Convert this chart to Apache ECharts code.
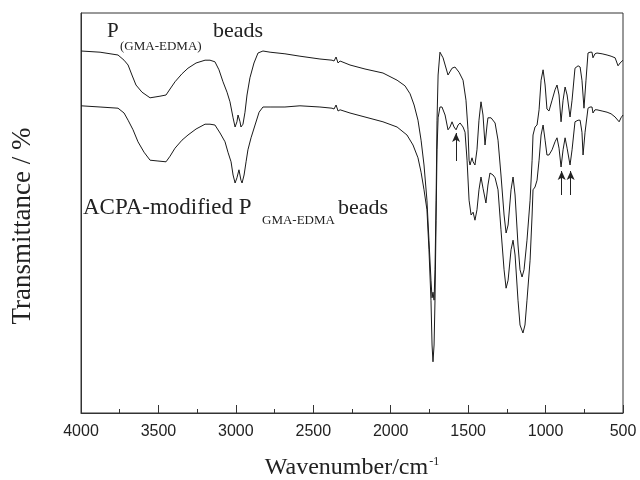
<!DOCTYPE html>
<html>
<head>
<meta charset="utf-8">
<script src="https://cdn.jsdelivr.net/npm/echarts@6/dist/echarts.min.js"></script>
<style>html,body{margin:0;padding:0;background:#fff;}#c{width:640px;height:480px;}</style>
</head>
<body>
<div id="c"></div>
<script>
// Wavenumber ticks
var xTicks = [4000, 3500, 3000, 2500, 2000, 1500, 1000, 500];

// P(GMA-EDMA) beads (upper trace): wavenumber (cm-1) and transmittance (arb.)
var wnTop = [4000,3877,3761,3722,3696,3671,3645,3606,3554,3522,3490,3451,3425,3393,3348,3309,3257,3199,3167,3135,3109,3083,3057,3038,3018,3005,2993,2986,2973,2967,2954,2941,2928,2909,2883,2857,2825,2779,2683,2586,2457,2379,2366,2353,2340,2327,2263,2166,2050,1959,1908,1875,1849,1824,1804,1785,1766,1753,1740,1733,1727,1720,1714,1707,1701,1694,1682,1662,1630,1604,1585,1559,1533,1514,1501,1494,1488,1475,1468,1456,1443,1430,1417,1404,1391,1378,1372,1352,1326,1307,1288,1268,1255,1242,1223,1210,1197,1178,1165,1152,1139,1120,1100,1087,1081,1068,1055,1042,1029,1016,1003,991,978,958,939,926,913,900,887,874,861,842,829,810,790,777,765,752,739,726,713,700,694,681,668,635,603,577,551,532,519,500];
var trTop = [90.5,90.2,89.5,88.2,87,84.5,82,80.2,78.8,79,79.2,79.5,81,82.8,84.8,86.2,87.5,88.2,88.2,87.8,85.8,82.8,80.2,77.8,73.8,71.5,72.8,74.5,72.8,71.5,72.2,75.2,79.5,83.8,87.5,90,90.5,90.2,89.8,89.2,88.5,88.2,88,89,87.5,88,87,86,85,83.2,81.8,79.8,77,73.2,68.2,62,53.2,43.2,33.2,28.8,30.2,28.2,35.8,53.2,73.2,84.5,90.2,88.8,84.5,86.2,86.5,85.2,83.2,78.2,70.8,63.2,62,63.8,62.8,62,65.8,73.2,77.8,74.5,67,72,73.8,73.8,72.5,68.2,59.5,49.5,45,47,55.8,59,54.5,42,35.8,34,35.8,43.2,53.2,63.2,69.5,71.5,72,75.8,83.2,85.8,82,76,75.5,78.2,80.8,82,79.5,72.8,78.2,81.5,79.5,74,78.2,86.2,86.8,86.5,83.2,76.2,83.2,90,90.2,90.2,88.8,89.8,90,89.8,89.5,89.2,88.8,86.8,87.5,88.2];

// ACPA-modified P(GMA-EDMA) beads (lower trace)
var wnBottom = [4000,3877,3761,3722,3696,3664,3632,3593,3554,3503,3451,3425,3393,3348,3309,3257,3199,3167,3135,3102,3070,3051,3031,3018,3005,2993,2980,2967,2960,2947,2934,2922,2902,2876,2850,2825,2779,2683,2586,2457,2379,2366,2353,2340,2327,2263,2166,2050,1959,1895,1856,1824,1804,1785,1766,1753,1740,1733,1727,1720,1714,1707,1701,1694,1682,1669,1649,1630,1617,1604,1591,1578,1565,1552,1533,1520,1507,1494,1481,1468,1456,1443,1430,1417,1404,1385,1372,1359,1339,1326,1307,1288,1268,1255,1242,1223,1210,1197,1178,1165,1146,1133,1120,1100,1087,1081,1068,1055,1042,1029,1016,1003,991,978,958,939,926,913,900,887,874,861,842,829,810,790,777,765,758,745,726,713,700,694,681,668,635,603,577,551,525,513,500];
var trBottom = [76.8,76.5,76.2,75,73.2,70.8,67.8,65.2,63.2,63,62.8,64.2,66.2,68.2,69.5,71,72.2,72.2,72,70,67.8,65.2,62.8,59.5,57.5,58.8,60.8,58.2,57.5,59.5,62.8,65.8,68.8,72,75.2,76.5,76.5,76.5,76.8,76.5,76.2,76,77,75.5,75.8,75,74,72.8,71.5,69.5,67,63.8,60.2,55.8,50.8,40.8,28.2,17,12.8,17,28.2,48.2,65.8,73.8,76.5,76.5,74.5,70.8,71.5,72.8,71.5,70.8,72,72.5,71.5,70.2,63.2,53.2,49.5,50.2,48.2,50.8,55.8,59,56.2,52.5,57,60,59.5,58.8,55.8,45.8,35.8,31.2,33.2,40.8,43.2,39.5,28.2,22,20,22,28.2,38.2,49.5,55.8,56.5,58.2,63.2,69.5,72,68.2,64.5,64.5,65.8,67.8,68.8,66.2,61.5,65.8,68.8,66.2,62,65.8,72.8,73.2,73.2,70.2,64.5,70.2,76.2,76.5,76.5,75,75.8,75.8,75.5,75.2,74.8,74,72.8,73.8,74.5];

// Arrows marking new bands (wavenumber, tail, head)
var arrowWn = [1578, 896, 838];
var arrowTail = [63, 54.5, 54.5];
var arrowHead = [70, 60.5, 60.5];

function pairs(xs, ys){ return xs.map(function(x,i){ return [x, ys[i]]; }); }

var serif = '"Liberation Serif","Times New Roman",serif';
var sans = '"Liberation Sans",Arial,sans-serif';

var chart = echarts.init(document.getElementById('c'), null, {renderer:'canvas'});
var arrowLines = arrowWn.map(function(w,i){
  return [{coord:[w, arrowTail[i]]},{coord:[w, arrowHead[i]]}];
});

chart.setOption({
  animation: false,
  backgroundColor: '#fff',
  grid: {left: 81, right: 17, top: 13, bottom: 67, containLabel: false, outerBoundsMode: 'none',
         show: true, borderColor: '#333', borderWidth: 1, backgroundColor: 'transparent'},
  xAxis: {
    type: 'value', inverse: true, min: 500, max: 4000, interval: 500,
    axisLine: {show: true, lineStyle: {color: '#333', width: 1}},
    axisTick: {show: true, inside: true, length: 8, lineStyle: {color: '#333'}},
    minorTick: {show: true, splitNumber: 2, length: 4, lineStyle: {color: '#333'}},
    splitLine: {show: false},
    axisLabel: {fontFamily: sans, fontSize: 16, color: '#222', margin: 11,
      formatter: function(v){ return xTicks.indexOf(v) >= 0 ? String(v) : ''; }},
    name: '{a|Wavenumber/cm}{b|-1}',
    nameLocation: 'middle', nameGap: 43,
    nameTextStyle: {rich: {
      a: {fontFamily: serif, fontSize: 24, color: '#222'},
      b: {fontFamily: serif, fontSize: 12, color: '#222', verticalAlign: 'top', padding: [0,0,12,1]}
    }}
  },
  yAxis: {
    type: 'value', min: 0, max: 100,
    axisLine: {show: true, lineStyle: {color: '#333'}},
    axisTick: {show: false}, axisLabel: {show: false}, splitLine: {show: false}
  },
  series: [
    {type: 'line', data: pairs(wnTop, trTop), showSymbol: false, symbol: 'none',
     lineStyle: {color: '#1a1a1a', width: 1}, silent: true},
    {type: 'line', data: pairs(wnBottom, trBottom), showSymbol: false, symbol: 'none',
     lineStyle: {color: '#1a1a1a', width: 1}, silent: true,
     markLine: {silent: true, symbol: ['none', 'arrow'], symbolSize: [6, 9],
       lineStyle: {color: '#222', width: 1, type: 'solid'}, label: {show: false},
       data: arrowLines}}
  ],
  graphic: [
    {type: 'text', x: 23, y: 226, rotation: Math.PI / 2,
     style: {text: 'Transmittance / %', font: '27px ' + serif, fill: '#222', align: 'center', verticalAlign: 'middle'}},
    {type: 'text', x: 107, y: 31, style: {text: 'P', font: '21px ' + serif, fill: '#222', verticalAlign: 'middle'}},
    {type: 'text', x: 120, y: 47, style: {text: '(GMA-EDMA)', font: '13px ' + serif, fill: '#222', verticalAlign: 'middle'}},
    {type: 'text', x: 213, y: 31, style: {text: 'beads', font: '22px ' + serif, fill: '#222', verticalAlign: 'middle'}},
    {type: 'text', x: 83, y: 208, style: {text: 'ACPA-modified P', font: '23px ' + serif, fill: '#222', verticalAlign: 'middle'}},
    {type: 'text', x: 262, y: 221, style: {text: 'GMA-EDMA', font: '13px ' + serif, fill: '#222', verticalAlign: 'middle'}},
    {type: 'text', x: 338, y: 208, style: {text: 'beads', font: '22px ' + serif, fill: '#222', verticalAlign: 'middle'}}
  ]
});
</script>
</body>
</html>
